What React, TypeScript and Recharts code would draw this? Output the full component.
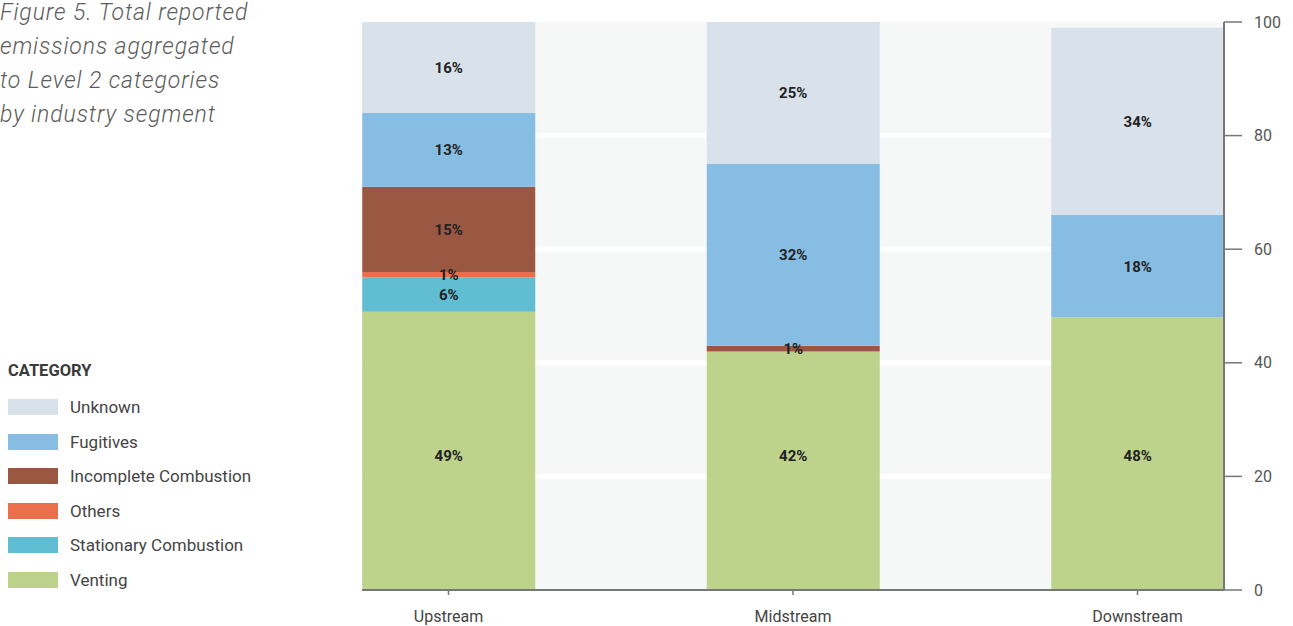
import React from 'react';
import {
    BarChart,
    Bar,
    XAxis,
    YAxis,
    CartesianGrid,
    LabelList,
} from 'recharts';

// industry segments on the x axis
const segments = ['Upstream', 'Midstream', 'Downstream'];

// percent of emissions per Level 2 category
const venting = [49, 42, 48];
const stationaryCombustion = [6, null, null];
const others = [1, null, null];
const incompleteCombustion = [15, 1, null];
const fugitives = [13, 32, 18];
const unknown = [16, 25, 33];

// printed labels on the Unknown segment (downstream printed as 34%)
const unknownLabels = ['16%', '25%', '34%'];

const yTicks = [0, 20, 40, 60, 80, 100];
const gridValues = [20, 40, 60, 80];

// stacked bottom to top
const series = [
    { key: 'venting', name: 'Venting', color: '#bdd28b', values: venting },
    { key: 'stationary', name: 'Stationary Combustion', color: '#60bdd2', values: stationaryCombustion },
    { key: 'others', name: 'Others', color: '#ea704c', values: others },
    { key: 'incomplete', name: 'Incomplete Combustion', color: '#9a5843', values: incompleteCombustion },
    { key: 'fugitives', name: 'Fugitives', color: '#88bde3', values: fugitives },
    { key: 'unknown', name: 'Unknown', color: '#d9e2ea', values: unknown },
];

const data = segments.map((segment, i) => {
    const row: Record<string, string | number | null> = { segment };
    series.forEach((s) => {
        row[s.key] = s.values[i];
        row[`${s.key}Label`] =
            s.key === 'unknown' ? unknownLabels[i] : s.values[i] == null ? '' : `${s.values[i]}%`;
    });
    return row;
});

const legendOrder = [...series].reverse();

const font = 'Roboto, "Noto Sans", sans-serif';

const labelStyle = {
    fontSize: 15,
    fontWeight: 700,
    fill: '#222',
    fontFamily: font,
};

export default function App() {
    return (
        <div
            style={{
                position: 'absolute',
                left: 0,
                top: 0,
                width: 1293,
                height: 626,
                background: '#fff',
                fontFamily: font,
                overflow: 'hidden',
            }}
        >
            <div
                style={{
                    position: 'absolute',
                    left: 0,
                    top: -4,
                    fontSize: 23,
                    lineHeight: '34px',
                    letterSpacing: 0.9,
                    fontStyle: 'italic',
                    fontWeight: 300,
                    color: '#5c5c5c',
                    whiteSpace: 'nowrap',
                }}
            >
                Figure 5. Total reported
                <br />
                emissions aggregated
                <br />
                to Level 2 categories
                <br />
                by industry segment
            </div>

            <div
                style={{
                    position: 'absolute',
                    left: 8,
                    top: 361,
                    fontSize: 16.5,
                    fontWeight: 700,
                    color: '#3a3a3a',
                    lineHeight: '20px',
                }}
            >
                CATEGORY
            </div>
            {legendOrder.map((s, i) => (
                <div
                    key={s.key}
                    style={{
                        position: 'absolute',
                        left: 8,
                        top: 397 + i * 34.5,
                        height: 20,
                        display: 'flex',
                        alignItems: 'center',
                        fontSize: 17,
                        color: '#444',
                        whiteSpace: 'nowrap',
                    }}
                >
                    <span
                        style={{
                            display: 'inline-block',
                            width: 50,
                            height: 16,
                            background: s.color,
                            marginRight: 12,
                        }}
                    />
                    {s.name}
                </div>
            ))}

            <div style={{ position: 'absolute', left: 0, top: 0 }}>
                <BarChart
                    width={1293}
                    height={626}
                    data={data}
                    margin={{ top: 22, right: 19, bottom: 6, left: 362 }}
                >
                    <CartesianGrid
                        vertical={false}
                        horizontalValues={gridValues}
                        stroke="#ffffff"
                        strokeWidth={5}
                        fill="#f6f8f8"
                        fillOpacity={1}
                    />
                    <XAxis
                        dataKey="segment"
                        height={30}
                        padding={{ left: -85.75, right: -85.75 }}
                        tick={{ fontSize: 16, fill: '#444', fontFamily: font }}
                        tickSize={5}
                        tickMargin={16}
                        tickLine={{ stroke: '#777', strokeWidth: 1.5 }}
                        axisLine={{ stroke: '#777', strokeWidth: 2 }}
                    />
                    <YAxis
                        orientation="right"
                        width={50}
                        domain={[0, 100]}
                        ticks={yTicks}
                        interval={0}
                        tick={{ fontSize: 16, fill: '#555', fontFamily: font }}
                        tickSize={18}
                        tickMargin={12}
                        tickLine={{ stroke: '#777', strokeWidth: 1.5 }}
                        axisLine={{ stroke: '#777', strokeWidth: 2 }}
                    />
                    {series.map((s) => (
                        <Bar
                            key={s.key}
                            dataKey={s.key}
                            name={s.name}
                            stackId="total"
                            fill={s.color}
                            barSize={173}
                            isAnimationActive={false}
                        >
                            {s.key === 'venting' ? (
                                <LabelList
                                    dataKey={`${s.key}Label`}
                                    position="insideBottom"
                                    offset={129}
                                    style={labelStyle}
                                />
                            ) : (
                                <LabelList
                                    dataKey={`${s.key}Label`}
                                    position="center"
                                    style={labelStyle}
                                />
                            )}
                        </Bar>
                    ))}
                </BarChart>
            </div>
        </div>
    );
}
